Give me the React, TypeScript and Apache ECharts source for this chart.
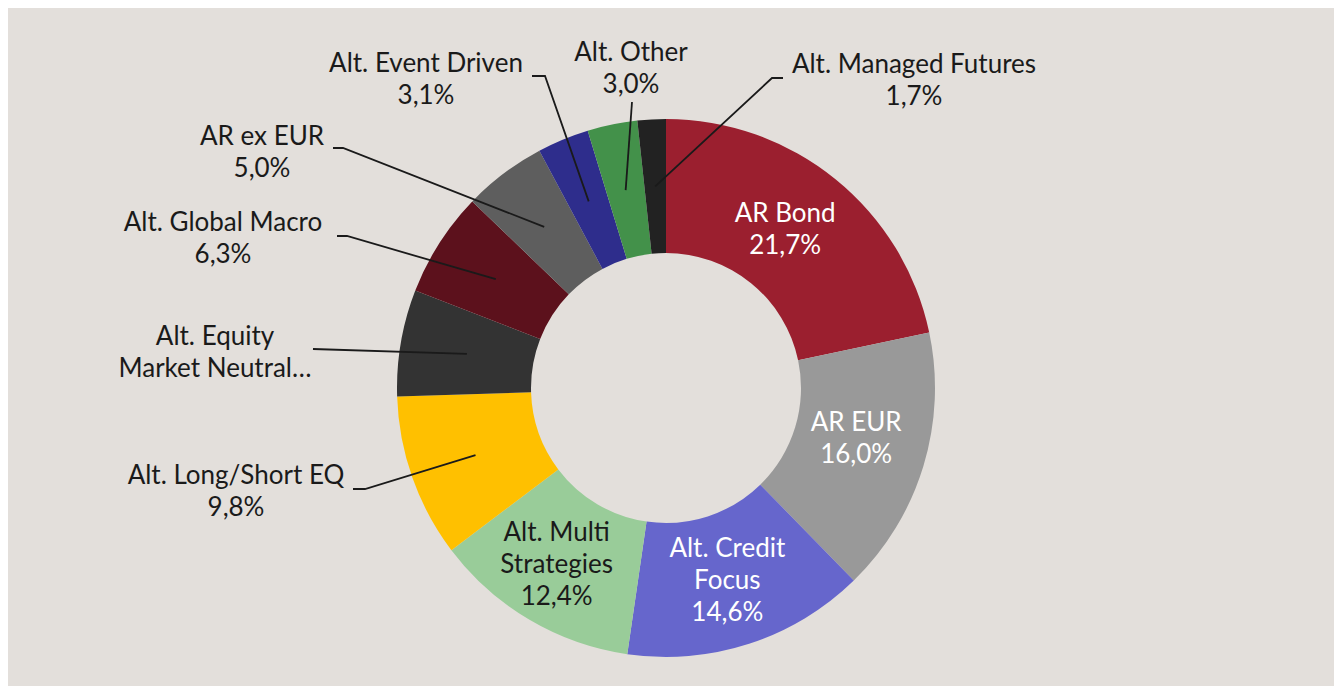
import React, { useEffect, useRef } from "react";
import * as echarts from "echarts";

const names = [
  "AR Bond",
  "AR EUR",
  "Alt. Credit Focus",
  "Alt. Multi Strategies",
  "Alt. Long/Short EQ",
  "Alt. Equity Market Neutral",
  "Alt. Global Macro",
  "AR ex EUR",
  "Alt. Event Driven",
  "Alt. Other",
  "Alt. Managed Futures",
];
const values = [21.7, 16.0, 14.6, 12.4, 9.8, 6.4, 6.3, 5.0, 3.1, 3.0, 1.7];
const labelTexts = [
  "AR Bond",
  "AR EUR",
  "Alt. Credit\nFocus",
  "Alt. Multi\nStrategies",
  "Alt. Long/Short EQ",
  "Alt. Equity\nMarket Neutral…",
  "Alt. Global Macro",
  "AR ex EUR",
  "Alt. Event Driven",
  "Alt. Other",
  "Alt. Managed Futures",
];
const showValue = [true, true, true, true, true, false, true, true, true, true, true];
const colors = [
  "#9b1f2f",
  "#999999",
  "#6666cc",
  "#99cc99",
  "#ffc000",
  "#333333",
  "#5c111c",
  "#5e5e5e",
  "#2e2d8c",
  "#43914a",
  "#222222",
];
const insideTextColors = ["#ffffff", "#ffffff", "#ffffff", "#1a1a1a"];

// layout (chart pixel coordinates)
const CX = 658;
const CY = 380;
const R0 = 135;
const R1 = 269;
const FONT = "Lato";
const insideOffsets: Record<number, number[]> = {
  0: [-10, -1],
  1: [-6, -11],
  2: [-2, -4],
  3: [-5, -1],
};
// outside label centre + label-side leader points
const outsideLayout: Record<number, { x: number; y: number; pts: number[][] }> = {
  4: { x: 228, y: 482, pts: [[345, 481], [357, 481]] },
  5: { x: 207, y: 343, pts: [[305, 341]] },
  6: { x: 215, y: 229, pts: [[329, 228], [339, 228]] },
  7: { x: 254, y: 143, pts: [[325, 140], [335, 140]] },
  8: { x: 418, y: 70, pts: [[524, 68], [537, 68]] },
  9: { x: 623, y: 59, pts: [[624, 94]] },
  10: { x: 906, y: 71, pts: [[775, 70], [764, 70]] },
};

const fmt = (v: number) => v.toFixed(1).replace(".", ",") + "%";

export default function App() {
  const ref = useRef<HTMLDivElement>(null);
  useEffect(() => {
    document.body.style.overflow = "hidden";
    const chart = echarts.init(ref.current!, null, { renderer: "svg" });
    const total = values.reduce((a, b) => a + b, 0);
    const centroid = (i: number) => {
      let before = 0;
      for (let k = 0; k < i; k++) before += values[k];
      const mid = ((before + values[i] / 2) / total) * Math.PI * 2;
      const rm = (R0 + R1) / 2;
      return [CX + rm * Math.sin(mid), CY - rm * Math.cos(mid)];
    };
    const data = names.map((n, i) => {
      const outside = outsideLayout[i] !== undefined;
      return {
        name: n,
        value: values[i],
        itemStyle: { color: colors[i] },
        label: {
          position: outside ? "outside" : "inside",
          color: outside ? "#1a1a1a" : insideTextColors[i],
        },
        labelLine: { show: false },
      };
    });
    const leaderLines = Object.keys(outsideLayout).map((k) => {
      const i = Number(k);
      return {
        type: "polyline",
        silent: true,
        z: 10,
        shape: { points: [...outsideLayout[i].pts, centroid(i)] },
        style: { stroke: "#1a1a1a", lineWidth: 1.8, fill: null },
      };
    });
    chart.setOption({
      animation: false,
      backgroundColor: "#e3dfdb",
      graphic: leaderLines,
      series: [
        {
          type: "pie",
          center: [CX, CY],
          radius: [R0, R1],
          startAngle: 90,
          clockwise: true,
          avoidLabelOverlap: false,
          itemStyle: { borderWidth: 0 },
          emphasis: { disabled: true },
          label: {
            show: true,
            fontFamily: FONT,
            fontSize: 26,
            lineHeight: 32,
            align: "center",
            formatter: (p: any) =>
              labelTexts[p.dataIndex] + (showValue[p.dataIndex] ? "\n" + fmt(p.value) : ""),
          },
          labelLayout: (params: any) => {
            const i = params.dataIndex;
            const L = outsideLayout[i];
            if (!L) {
              const o = insideOffsets[i] || [0, 0];
              return { dx: o[0], dy: o[1] };
            }
            return {
              x: L.x,
              y: L.y,
              align: "center",
              verticalAlign: "middle",
            };
          },
          data,
        },
      ],
    });
    return () => chart.dispose();
  }, []);
  return <div ref={ref} style={{ width: 1328, height: 678 }} />;
}
